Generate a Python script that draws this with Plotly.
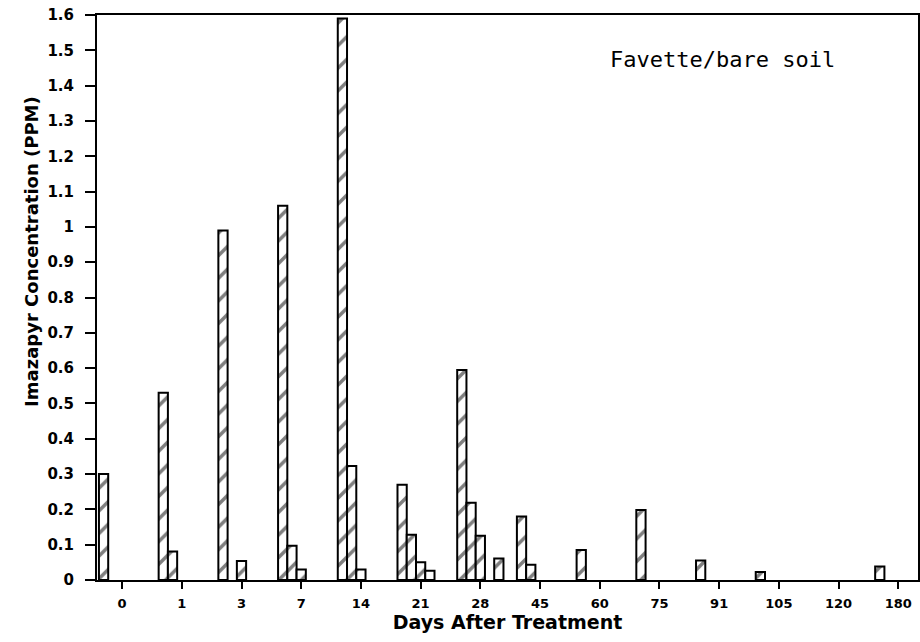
import plotly.graph_objects as go

days = ["0", "1", "3", "7", "14", "21", "28", "45", "60", "75", "91", "105", "120", "180"]

# five depth layers (left-to-right within each day group); None = no bar
layer1 = [0.30, 0.53, 0.99, 1.06, 1.59, 0.27, 0.595, 0.18, 0.085, 0.198, 0.055, 0.023, None, 0.038]
layer2 = [None, 0.081, None, 0.097, 0.323, 0.128, 0.219, 0.043, None, None, None, None, None, None]
layer3 = [None, None, 0.054, 0.030, 0.030, 0.050, 0.125, None, None, None, None, None, None, None]
layer4 = [None, None, None, None, None, 0.026, None, None, None, None, None, None, None, None]
layer5 = [None, None, None, None, None, None, 0.061, None, None, None, None, None, None, None]

y_ticks = [round(i * 0.1, 1) for i in range(17)]
y_tick_text = ["0", "0.1", "0.2", "0.3", "0.4", "0.5", "0.6", "0.7", "0.8", "0.9",
               "1", "1.1", "1.2", "1.3", "1.4", "1.5", "1.6"]

fig = go.Figure()
for vals in [layer1, layer2, layer3, layer4, layer5]:
    fig.add_trace(go.Bar(
        x=days, y=vals,
        marker=dict(color="white",
                    line=dict(color="black", width=2),
                    pattern=dict(shape="/", fgcolor="black", bgcolor="white",
                                 size=16, solidity=0.22)),
        showlegend=False,
    ))

fig.update_layout(
    width=920, height=642,
    margin=dict(l=97, r=2, t=15, b=62),
    paper_bgcolor="white", plot_bgcolor="white",
    barmode="group", bargap=0.225, bargroupgap=0,
    font=dict(family="DejaVu Sans", color="black"),
    xaxis=dict(
        type="category", range=[-0.42, 13.33], automargin=False,
        showline=True, linecolor="black", linewidth=2, mirror=True,
        ticks="outside", ticklen=7, tickwidth=1.5, tickcolor="black",
        ticklabelstandoff=3,
        showgrid=False, zeroline=False,
        tickfont=dict(family="DejaVu Sans", size=13, weight="bold"),
        title=dict(text="Days After Treatment", standoff=5,
                   font=dict(family="DejaVu Sans", size=19, weight="bold")),
    ),
    yaxis=dict(
        range=[0, 1.6], tickvals=y_ticks, ticktext=y_tick_text, automargin=False,
        showline=True, linecolor="black", linewidth=2, mirror=True,
        ticks="outside", ticklen=10, tickwidth=1.5, tickcolor="black",
        ticklabelstandoff=8,
        showgrid=False, zeroline=False,
        tickfont=dict(family="DejaVu Sans", size=15, weight="bold"),
    ),
    annotations=[
        dict(text="Favette/bare soil", xref="paper", yref="paper",
             x=0.622, y=0.922, xanchor="left", yanchor="middle", showarrow=False,
             font=dict(family="DejaVu Sans Mono", size=22, color="black")),
        dict(text="Imazapyr Concentration (PPM)", xref="paper", yref="y",
             x=-0.080, y=0.93, xanchor="center", yanchor="middle", textangle=-90,
             showarrow=False,
             font=dict(family="DejaVu Sans", size=18, weight="bold", color="black")),
    ],
)

fig.write_html(
    "out.html",
    config={"displayModeBar": False},
    post_script="document.body.style.margin='0';document.body.style.overflow='hidden';",
)
